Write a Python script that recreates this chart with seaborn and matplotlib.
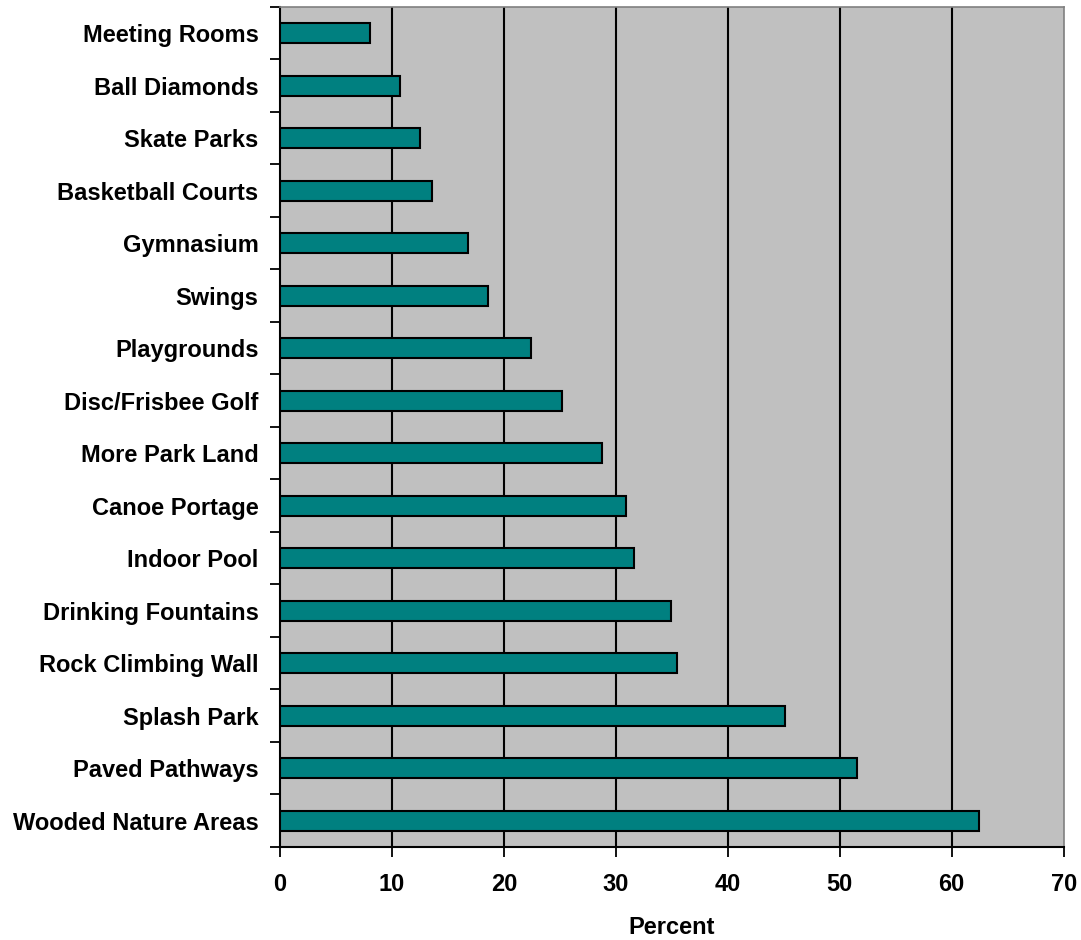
import numpy as np
import pandas as pd
import matplotlib
matplotlib.use("Agg")
import matplotlib.pyplot as plt
import seaborn as sns

# ===============================
# Data
# ===============================
amenities = [
    "Meeting Rooms", "Ball Diamonds", "Skate Parks", "Basketball Courts",
    "Gymnasium", "Swings", "Playgrounds", "Disc/Frisbee Golf",
    "More Park Land", "Canoe Portage", "Indoor Pool", "Drinking Fountains",
    "Rock Climbing Wall", "Splash Park", "Paved Pathways", "Wooded Nature Areas",
]
percent = [8.0, 10.7, 12.5, 13.6, 16.8, 18.6, 22.4, 25.2,
           28.8, 30.9, 31.6, 34.9, 35.5, 45.1, 51.5, 62.4]
x_ticks = [0, 10, 20, 30, 40, 50, 60, 70]

df = pd.DataFrame({"amenity": amenities, "percent": percent})

# ===============================
# Plot
# ===============================
sns.set_style("white")
plt.rcParams["font.family"] = ["Liberation Sans", "DejaVu Sans"]
plt.rcParams["text.color"] = "black"
plt.rcParams["xtick.color"] = "black"
plt.rcParams["ytick.color"] = "black"
plt.rcParams["axes.labelcolor"] = "black"

fig = plt.figure(figsize=(10.81, 9.40), dpi=100)
ax = fig.add_axes([0.259, 0.099, 0.725, 0.8936])
ax.set_facecolor("#C0C0C0")

sns.barplot(data=df, y="amenity", x="percent", orient="h",
            color="#008080", edgecolor="black", linewidth=1.5,
            width=0.38, saturation=1, ax=ax, zorder=3)

ax.set_xlim(0, 70)
ax.set_ylim(len(amenities) - 0.5, -0.5)
ax.set_xticks(x_ticks)
ax.set_xticklabels([str(t) for t in x_ticks], fontsize=17, fontweight="bold")
ax.tick_params(axis="x", bottom=True, direction="out", length=7, width=1.3,
               pad=12, colors="black")

# y ticks sit between categories
ax.set_yticks(np.arange(len(amenities)))
ax.set_yticklabels(amenities, fontsize=17, fontweight="bold")
ax.tick_params(axis="y", which="major", left=True, length=0, pad=15.5)
ax.set_yticks(np.arange(-0.5, len(amenities)), minor=True)
ax.tick_params(axis="y", which="minor", left=True, direction="out",
               length=7, width=1.3, color="black")

# vertical gridlines
for t in x_ticks[1:-1]:
    ax.axvline(t, color="black", linewidth=1.5, zorder=1)

ax.set_xlabel("Percent", fontsize=17, fontweight="bold", labelpad=14)
ax.set_ylabel("")

for side in ["left", "bottom"]:
    ax.spines[side].set_color("black")
    ax.spines[side].set_linewidth(1.5)
for side in ["top", "right"]:
    ax.spines[side].set_color("#808080")
    ax.spines[side].set_linewidth(1.2)

plt.savefig("out.png", dpi=100)
plt.close()
